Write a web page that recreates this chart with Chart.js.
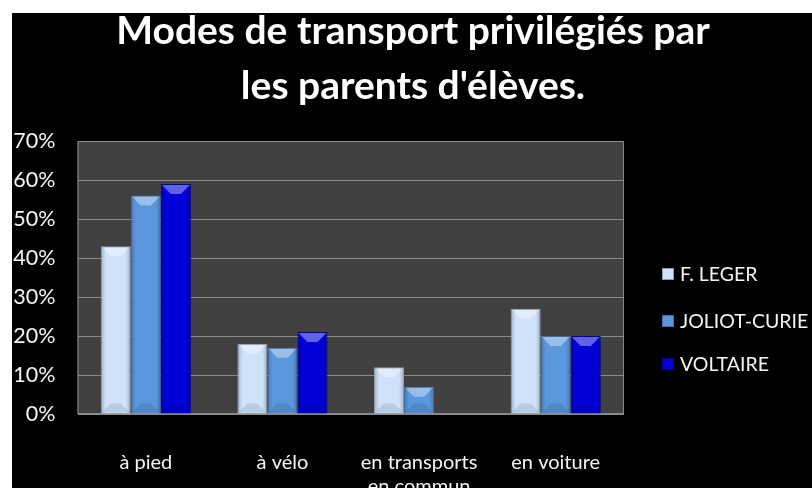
<!DOCTYPE html>
<html>
<head>
<meta charset="utf-8">
<style>
  html, body { margin: 0; padding: 0; background: #ffffff; }
  #wrap { position: absolute; left: 0; top: 0; width: 812px; height: 488px; }
</style>
<script src="https://cdn.jsdelivr.net/npm/chart.js@4/dist/chart.umd.min.js"></script>
</head>
<body>
<div id="wrap"><canvas id="c" width="812" height="488"></canvas></div>
<script>
const titleLines = ['Modes de transport privilégiés par', "les parents d'élèves."];
const categories = ['à pied', 'à vélo', ['en transports', 'en commun'], 'en voiture'];
const seriesNames = ['F. LEGER', 'JOLIOT-CURIE', 'VOLTAIRE'];
const fLeger = [43, 18, 12, 27];
const joliotCurie = [56, 17, 7, 20];
const voltaire = [59, 21, 0, 20];
const yTicks = [0, 10, 20, 30, 40, 50, 60, 70];

const fills = ['#cfe2fa', '#5b97dd', '#0000d9'];
const edges = ['#8d9aab', '#3f6da6', '#00009a'];
const FONT = 'Lato, "Open Sans", sans-serif';

const backdrop = {
  id: 'backdrop',
  beforeDraw(chart) {
    const ctx = chart.ctx, a = chart.chartArea;
    ctx.save();
    ctx.fillStyle = '#000000';
    ctx.fillRect(0, 0, chart.width, chart.height);
    ctx.fillStyle = '#ffffff';
    ctx.fillRect(0, 0, chart.width, 13);
    ctx.fillRect(0, 0, 12, chart.height);
    ctx.fillStyle = '#404040';
    ctx.fillRect(a.left, a.top, a.right - a.left, a.bottom - a.top);
    ctx.fillStyle = '#ffffff';
    ctx.font = 'bold 39px ' + FONT;
    ctx.textAlign = 'center';
    ctx.textBaseline = 'alphabetic';
    ctx.fillText(titleLines[0], 413, 44);
    ctx.fillText(titleLines[1], 413, 99);
    ctx.restore();
  },
  beforeDatasetsDraw(chart) {
    const ctx = chart.ctx, a = chart.chartArea;
    ctx.save();
    ctx.strokeStyle = '#8a8a8a';
    ctx.lineWidth = 1;
    ctx.strokeRect(a.left + 0.5, a.top + 0.5, a.right - a.left - 1, a.bottom - a.top - 1);
    ctx.restore();
  },
  afterDatasetsDraw(chart) {
    const ctx = chart.ctx;
    ctx.save();
    chart.data.datasets.forEach((ds, i) => {
      chart.getDatasetMeta(i).data.forEach(bar => {
        const p = bar.getProps(['x', 'y', 'base', 'width'], true);
        const h = p.base - p.y;
        if (h <= 1) return;
        const x0 = p.x - p.width / 2, x1 = p.x + p.width / 2;
        const b = Math.min(10, h / 2, p.width / 2);
        // top highlight bevel
        ctx.fillStyle = 'rgba(255,255,255,0.38)';
        ctx.beginPath();
        ctx.moveTo(x0 + 1, p.y + 1); ctx.lineTo(x1 - 1, p.y + 1);
        ctx.lineTo(x1 - b, p.y + b); ctx.lineTo(x0 + b, p.y + b);
        ctx.closePath(); ctx.fill();
        // bottom shade bevel
        ctx.fillStyle = 'rgba(0,0,0,0.10)';
        ctx.beginPath();
        ctx.moveTo(x0 + 1, p.base - 1); ctx.lineTo(x1 - 1, p.base - 1);
        ctx.lineTo(x1 - b, p.base - b); ctx.lineTo(x0 + b, p.base - b);
        ctx.closePath(); ctx.fill();
        // side shading
        let g = ctx.createLinearGradient(x0, 0, x0 + 5, 0);
        g.addColorStop(0, 'rgba(0,0,0,0.22)'); g.addColorStop(1, 'rgba(0,0,0,0)');
        ctx.fillStyle = g; ctx.fillRect(x0 + 1, p.y + 1, 5, h - 2);
        g = ctx.createLinearGradient(x1, 0, x1 - 5, 0);
        g.addColorStop(0, 'rgba(0,0,0,0.22)'); g.addColorStop(1, 'rgba(0,0,0,0)');
        ctx.fillStyle = g; ctx.fillRect(x1 - 6, p.y + 1, 5, h - 2);
      });
    });
    ctx.restore();
  },
  afterDraw(chart) {
    const ctx = chart.ctx;
    const rows = [274, 321, 364];
    ctx.save();
    ctx.font = '19.5px ' + FONT;
    ctx.textBaseline = 'middle';
    ctx.textAlign = 'left';
    chart.data.datasets.forEach((ds, i) => {
      ctx.fillStyle = ds.backgroundColor;
      ctx.fillRect(662, rows[i] - 6, 12, 12);
      ctx.strokeStyle = ds.borderColor;
      ctx.strokeRect(662.5, rows[i] - 5.5, 11, 11);
      ctx.fillStyle = '#f4f4f4';
      ctx.fillText(ds.label, 680, rows[i] + 1);
    });
    ctx.restore();
  }
};

const datasets = [fLeger, joliotCurie, voltaire].map((vals, i) => ({
  label: seriesNames[i],
  data: vals,
  backgroundColor: fills[i],
  borderColor: edges[i],
  borderWidth: 1,
  barPercentage: 1,
  categoryPercentage: 0.66
}));

new Chart(document.getElementById('c'), {
  type: 'bar',
  data: { labels: categories, datasets },
  plugins: [backdrop],
  options: {
    responsive: false,
    animation: false,
    devicePixelRatio: 1,
    layout: { padding: { top: 141, left: 12, right: 188, bottom: 0 } },
    plugins: {
      legend: { display: false },
      title: { display: false },
      tooltip: { enabled: false }
    },
    scales: {
      x: {
        afterFit(scale) { scale.height = 74; },
        grid: { display: false, drawTicks: false },
        border: { display: false },
        ticks: {
          color: '#f4f4f4',
          font: { family: FONT, size: 20 },
          padding: 37,
          maxRotation: 0,
          autoSkip: false
        }
      },
      y: {
        min: 0,
        max: 70,
        afterFit(scale) { scale.width = 65.5; },
        afterBuildTicks(scale) { scale.ticks = yTicks.map(v => ({ value: v })); },
        grid: { color: '#8a8a8a', lineWidth: 1, drawTicks: false },
        border: { display: false },
        ticks: {
          color: '#f4f4f4',
          font: { family: FONT, size: 21.5 },
          padding: 22,
          callback: v => v + '%'
        }
      }
    }
  }
});
</script>
</body>
</html>
